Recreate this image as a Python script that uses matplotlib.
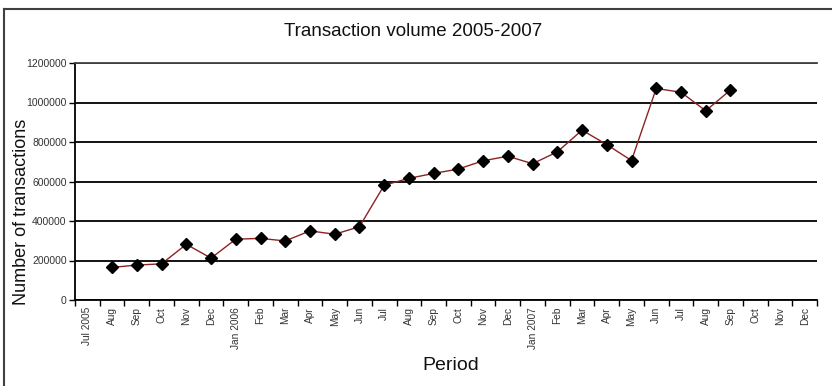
import numpy as np
import matplotlib
matplotlib.use('Agg')
import matplotlib.pyplot as plt
from matplotlib.lines import Line2D

plt.rcParams['font.family'] = ['Liberation Sans Narrow', 'Liberation Sans', 'DejaVu Sans']

# months Jul 2005 .. Dec 2007
months = ['Jul 2005', 'Aug', 'Sep', 'Oct', 'Nov', 'Dec',
          'Jan 2006', 'Feb', 'Mar', 'Apr', 'May', 'Jun',
          'Jul', 'Aug', 'Sep', 'Oct', 'Nov', 'Dec',
          'Jan 2007', 'Feb', 'Mar', 'Apr', 'May', 'Jun',
          'Jul', 'Aug', 'Sep', 'Oct', 'Nov', 'Dec']
# no data for Jul 2005 and Oct-Dec 2007
volume = [np.nan, 165000, 177000, 183000, 282000, 212000,
          308000, 312000, 299000, 350000, 333000, 371000,
          581000, 616000, 641000, 663000, 705000, 728000,
          690000, 750000, 860000, 787000, 706000, 1071000,
          1052000, 958000, 1063000, np.nan, np.nan, np.nan]
yticks = [0, 200000, 400000, 600000, 800000, 1000000, 1200000]

fig = plt.figure(figsize=(8.32, 3.86), dpi=100)
ax = fig.add_axes([75/832, 1-300/386, (817-75)/832, (300-63)/386])

x = np.arange(len(months))
ax.plot(x, volume, color='#8b2323', lw=1.0, marker='D', ms=6.5,
        mfc='black', mec='black', zorder=3)

ax.set_xlim(-0.5, len(months) - 0.5)
ax.set_ylim(0, 1200000)
ax.set_yticks(yticks)
ax.set_yticklabels([str(v) for v in yticks], fontsize=7.5, color='#333333')
ax.yaxis.grid(True, color='black', lw=1.3)
ax.set_axisbelow(True)

ax.set_xticks(x)
ax.set_xticklabels(months, rotation=90, fontsize=7.3, color='#333333')
ax.set_xticks(np.arange(-0.5, len(months)), minor=True)
ax.tick_params(axis='x', which='major', length=0, pad=5)
ax.tick_params(axis='x', which='minor', length=4, width=1, direction='out')
ax.tick_params(axis='y', length=4, width=1, direction='out', pad=2)

ax.spines['right'].set_visible(False)
ax.spines['top'].set_color('#444444')
ax.spines['top'].set_linewidth(1.3)
ax.spines['left'].set_linewidth(1.3)
ax.spines['bottom'].set_linewidth(1.3)

fig.text(22/832, 1-212/386, 'Number of transactions', fontsize=13,
         rotation=90, ha='center', va='center', color='#111111')
fig.text(451/832, 1-366/386, 'Period', fontsize=14,
         ha='center', va='center', color='#111111')
fig.text(0.497, 1-32/386, 'Transaction volume 2005-2007', fontsize=13.5,
         ha='center', va='center', color='#111111')

# outer chart border (cropped at right and bottom)
bx, by = 3.5/832, 1-8.5/386
fig.add_artist(Line2D([bx, bx], [0, by], color='#404040', lw=1.5, transform=fig.transFigure))
fig.add_artist(Line2D([bx, 1], [by, by], color='#404040', lw=1.5, transform=fig.transFigure))

fig.savefig('out.png', dpi=100)
